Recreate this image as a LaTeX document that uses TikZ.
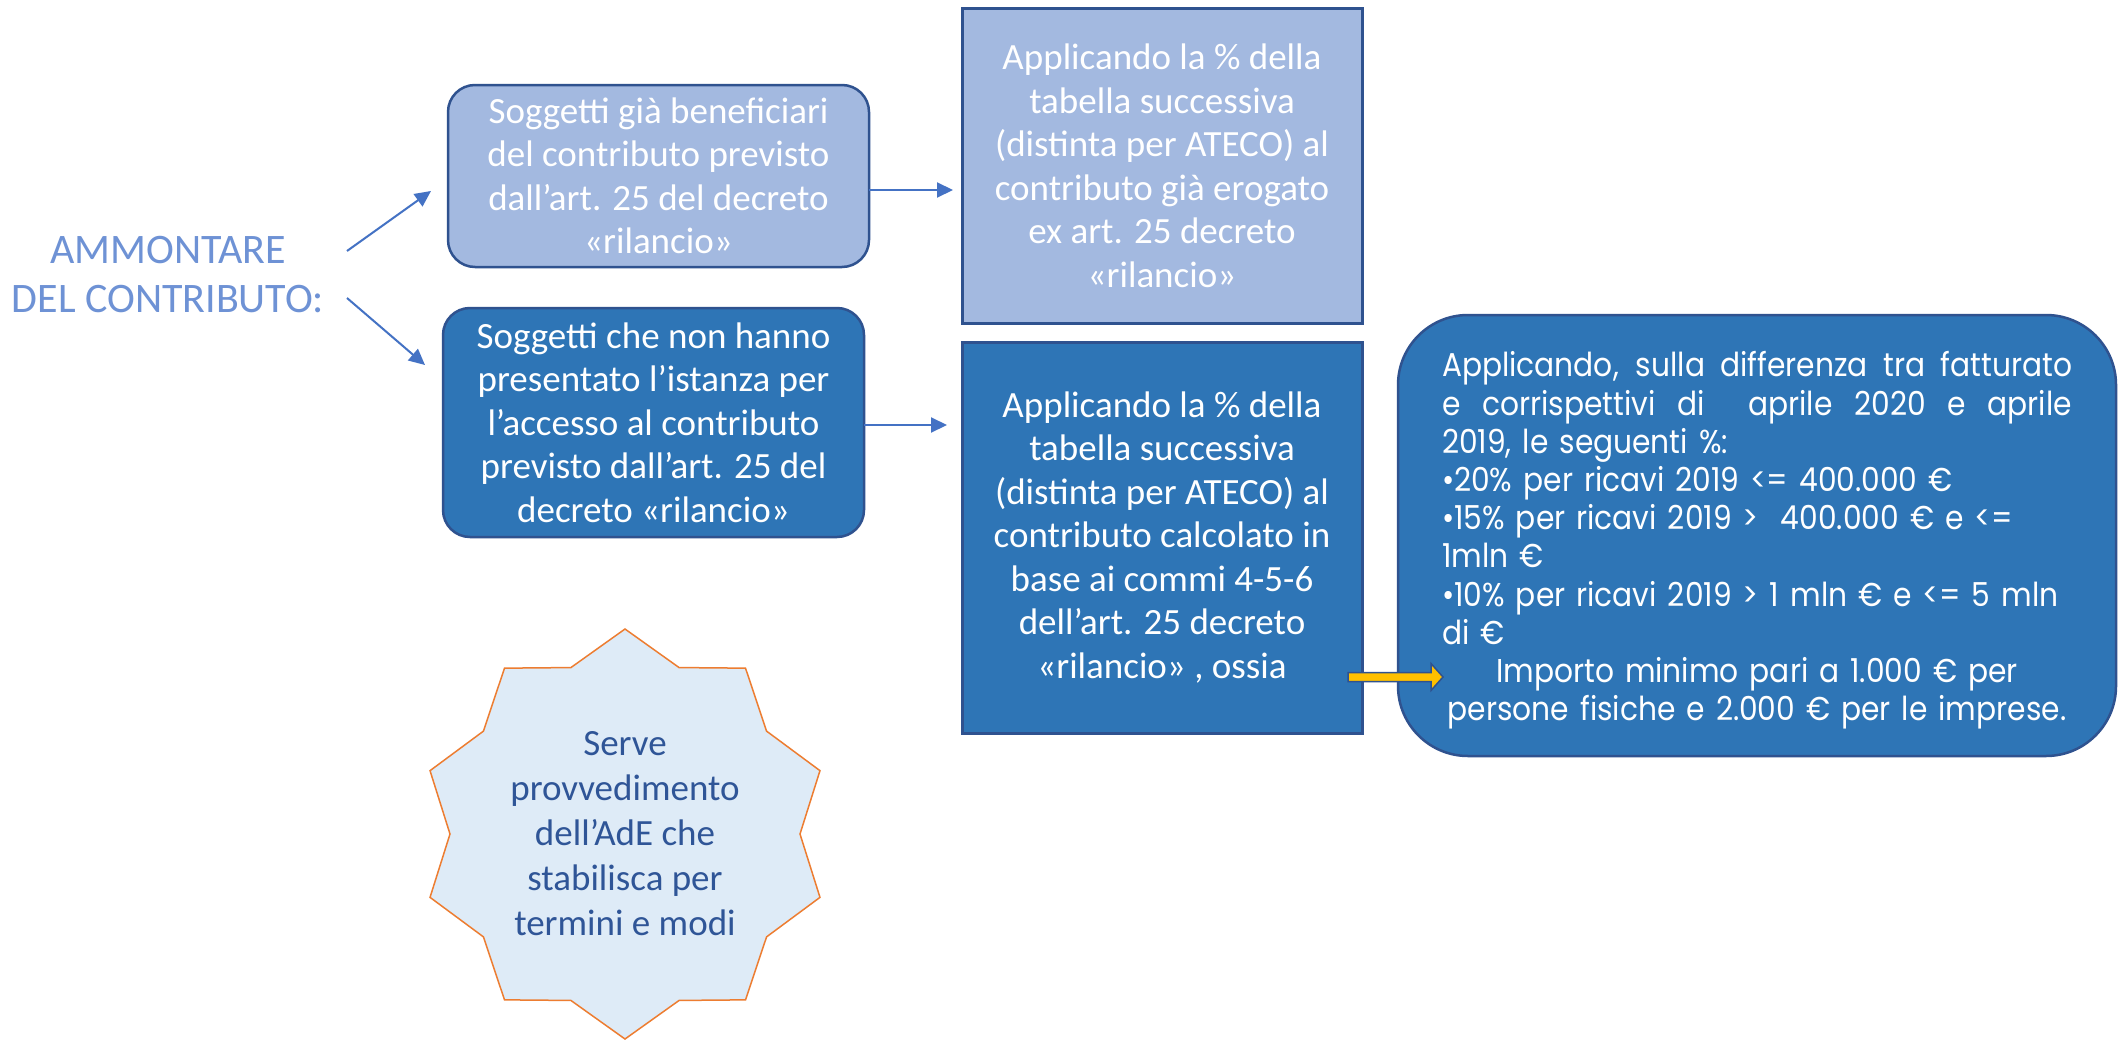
\documentclass[tikz,border=0pt]{standalone}
\usepackage{fontspec}
\setmainfont{Carlito}
\newfontfamily\gothicfont[FakeStretch=0.9]{Poppins}
\usetikzlibrary{arrows.meta,calc}
\definecolor{lightbox}{HTML}{A3B9E0}
\definecolor{darkbox}{HTML}{2E75B6}
\definecolor{boxborder}{HTML}{2F528F}
\definecolor{arrowblue}{HTML}{4472C4}
\definecolor{titleblue}{HTML}{6E92D5}
\definecolor{starfill}{HTML}{DEEBF7}
\definecolor{starborder}{HTML}{ED7D31}
\definecolor{startext}{HTML}{2F5597}
\definecolor{yellowarrow}{HTML}{FFC000}
\newcommand{\myjustline}[1]{\makebox[630pt][s]{\spaceskip=0.25em plus 1fil\xspaceskip=0.25em plus 1fil\relax #1}}
\newcommand{\mycenterline}[1]{\makebox[630pt][c]{#1}}
\begin{document}
\begin{tikzpicture}[x=1pt,y=-1pt,
  every node/.style={inner sep=0pt, outer sep=0pt},
  txt/.style={font=\fontsize{37}{43.5}\selectfont, text=white, align=center},
  rbox/.style={txt, rounded corners=27pt, draw=boxborder, line width=2.5pt},
  sbox/.style={txt, draw=boxborder, line width=3pt},
  conn/.style={draw=arrowblue, line width=2pt, -{Triangle[length=16pt,width=15pt]}},
  yarrow/.style={draw=boxborder, fill=yellowarrow, line width=1.5pt},
  starshape/.style={draw=starborder, fill=starfill, line width=1.5pt},
]
\useasboundingbox[fill=white] (0,0) rectangle (2127,1041);

% title
\node[font=\fontsize{42}{49}\selectfont, text=titleblue, align=center] (title) at (168,275) {AMMONTARE\\DEL CONTRIBUTO:};

% boxes
\node[rbox, fill=lightbox, minimum width=421pt, minimum height=182pt] (box1) at (658.5,176)
  {Soggetti già beneficiari\\del contributo previsto\\dall’art. 25 del decreto\\«rilancio»};
\node[rbox, fill=darkbox, minimum width=421pt, minimum height=229pt] (box2) at (653.5,422.5)
  {Soggetti che non hanno\\presentato l’istanza per\\l’accesso al contributo\\previsto dall’art. 25 del\\decreto «rilancio»};
\node[sbox, fill=lightbox, minimum width=400pt, minimum height=314pt] (box3) at (1162,166)
  {Applicando la \% della\\tabella successiva\\(distinta per ATECO) al\\contributo già erogato\\ex art. 25 decreto\\«rilancio»};
\node[sbox, fill=darkbox, minimum width=400pt, minimum height=391pt] (box4) at (1162,537.5)
  {Applicando la \% della\\tabella successiva\\(distinta per ATECO) al\\contributo calcolato in\\base ai commi 4-5-6\\dell’art. 25 decreto\\«rilancio» , ossia};
\node[draw=boxborder, fill=darkbox, line width=2.5pt, rounded corners=70pt, minimum width=718pt, minimum height=441pt] (box5) at (1757,535.5) {};
\node[text=white, text width=630pt, align=left, font=\gothicfont\fontsize{33}{38.2}\selectfont] (box5txt) at ($(box5.center)+(0,5)$)
  {\myjustline{Applicando, sulla differenza tra fatturato}\\
   \myjustline{e corrispettivi di\ \ aprile 2020 e aprile}\\
   2019, le seguenti \%:\\
   •20\% per ricavi 2019 <= 400.000 €\\
   •15\% per ricavi 2019 >\ \ 400.000 € e <=\\
   1mln €\\
   •10\% per ricavi 2019 > 1 mln € e <= 5 mln\\
   di €\\
   \mycenterline{Importo minimo pari a 1.000 € per}\\
   \mycenterline{persone fisiche e 2.000 € per le imprese.}};

% star
\coordinate (S) at (625,834);
\draw[starshape] ($(S)+(90:205)$)
  \foreach \i in {0,...,9} { -- ($(S)+({108+36*\i}:175)$) -- ($(S)+({126+36*\i}:205)$) } -- cycle;
\node[font=\fontsize{37}{45}\selectfont, text=startext, align=center] (startxt) at (S)
  {Serve\\provvedimento\\dell’AdE che\\stabilisca per\\termini e modi};

% connectors
\coordinate (a1s) at (347,251);
\coordinate (a1e) at (431,191);
\coordinate (a2s) at (347,298);
\coordinate (a2e) at (425,365);
\coordinate (a3e) at (953,190);
\coordinate (a4e) at (947,425);
\draw[conn] (a1s) -- (a1e);
\draw[conn] (a2s) -- (a2e);
\draw[conn] (box1.east |- a3e) -- (a3e);
\draw[conn] (box2.east |- a4e) -- (a4e);

% yellow block arrow
\coordinate (ya) at (1348,677);
\coordinate (yb) at (1443,677);
\draw[yarrow] ($(ya)+(0,-4.5)$) -- ($(yb)+(-12,-4.5)$) -- ($(yb)+(-12,-13.5)$) -- (yb)
  -- ($(yb)+(-12,13.5)$) -- ($(yb)+(-12,4.5)$) -- ($(ya)+(0,4.5)$) -- cycle;
\end{tikzpicture}
\end{document}
